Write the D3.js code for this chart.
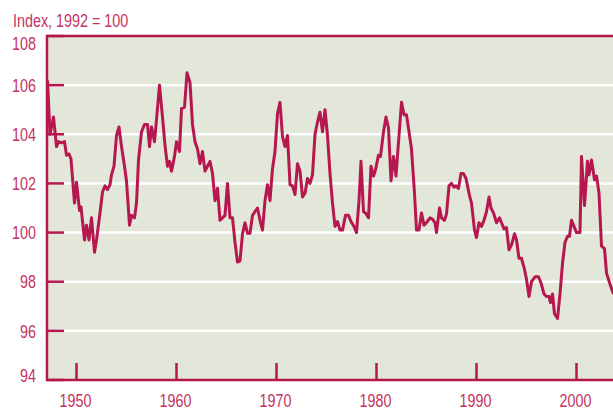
<!DOCTYPE html>
<html>
<head>
<meta charset="utf-8">
<script src="https://cdn.jsdelivr.net/npm/d3@7"></script>
<style>
  html, body { margin: 0; padding: 0; background: #ffffff; }
  svg text { font-family: "Liberation Sans", Arial, sans-serif; }
</style>
</head>
<body>
<div id="chart"></div>
<script>
// index values (decimal year, index)
const dates = [
  1947.1, 1947.35, 1947.7, 1947.85, 1948.0, 1948.2, 1948.5, 1948.8, 1949.0, 1949.25,
  1949.45, 1949.8, 1950.0, 1950.3, 1950.45, 1950.8, 1951.0, 1951.25, 1951.5, 1951.8,
  1952.0, 1952.35, 1952.6, 1952.85, 1953.1, 1953.35, 1953.5, 1953.75, 1954.0, 1954.25,
  1954.5, 1954.8, 1955.0, 1955.3, 1955.5, 1955.8, 1956.0, 1956.2, 1956.5, 1956.8,
  1957.1, 1957.3, 1957.5, 1957.8, 1958.0, 1958.3, 1958.6, 1958.85, 1959.1, 1959.3,
  1959.5, 1959.8, 1960.0, 1960.3, 1960.5, 1960.8, 1961.05, 1961.35, 1961.6, 1961.85,
  1962.1, 1962.35, 1962.6, 1962.85, 1963.1, 1963.35, 1963.6, 1963.85, 1964.1, 1964.35,
  1964.6, 1964.85, 1965.1, 1965.35, 1965.6, 1965.85, 1966.1, 1966.35, 1966.6, 1966.85,
  1967.1, 1967.35, 1967.6, 1967.85, 1968.1, 1968.35, 1968.6, 1968.85, 1969.1, 1969.35,
  1969.6, 1969.85, 1970.1, 1970.35, 1970.6, 1970.85, 1971.1, 1971.35, 1971.6, 1971.85,
  1972.1, 1972.35, 1972.6, 1972.85, 1973.1, 1973.35, 1973.6, 1973.85, 1974.1, 1974.35,
  1974.6, 1974.85, 1975.1, 1975.35, 1975.6, 1975.85, 1976.1, 1976.35, 1976.6, 1976.9,
  1977.2, 1977.45, 1977.75, 1978.0, 1978.25, 1978.45, 1978.7, 1978.9, 1979.2, 1979.45,
  1979.7, 1979.9, 1980.2, 1980.4, 1980.7, 1980.95, 1981.2, 1981.45, 1981.7, 1981.95,
  1982.25, 1982.5, 1982.75, 1983.0, 1983.25, 1983.5, 1983.8, 1984.0, 1984.25, 1984.5,
  1984.75, 1985.0, 1985.35, 1985.6, 1985.85, 1986.0, 1986.3, 1986.5, 1986.8, 1987.0,
  1987.25, 1987.5, 1987.75, 1987.95, 1988.2, 1988.45, 1988.7, 1988.95, 1989.1, 1989.3,
  1989.5, 1989.8, 1990.0, 1990.25, 1990.5, 1990.75, 1991.0, 1991.25, 1991.45, 1991.7,
  1992.0, 1992.3, 1992.5, 1992.75, 1993.0, 1993.25, 1993.5, 1993.8, 1994.0, 1994.25,
  1994.5, 1994.8, 1995.0, 1995.25, 1995.5, 1995.85, 1996.2, 1996.45, 1996.75, 1997.0,
  1997.25, 1997.4, 1997.6, 1997.8, 1998.1, 1998.35, 1998.6, 1998.85, 1999.1, 1999.3,
  1999.5, 1999.8, 2000.0, 2000.35, 2000.5, 2000.8, 2001.1, 2001.25, 2001.5, 2001.8,
  2002.0, 2002.25, 2002.5, 2002.8, 2003.0, 2003.35, 2003.7
];
const values = [
  106.2, 104.0, 104.7, 104.1, 103.5, 103.7, 103.65, 103.7, 103.15, 103.2,
  103.0, 101.2, 102.05, 100.9, 101.05, 99.7, 100.3, 99.7, 100.6, 99.2,
  99.7, 100.8, 101.65, 101.9, 101.75, 101.95, 102.35, 102.7, 103.95, 104.3,
  103.5, 102.7, 102.1, 100.3, 100.7, 100.6, 101.2, 102.95, 104.1, 104.4,
  104.4, 103.5, 104.3, 103.7, 104.6, 106.0, 104.7, 103.55, 102.7, 102.9,
  102.5, 103.1, 103.7, 103.3, 105.05, 105.1, 106.5, 106.1, 104.4, 103.7,
  103.4, 102.8, 103.3, 102.5, 102.7, 102.9, 102.4, 101.3, 101.8, 100.5,
  100.6, 100.7, 102.0, 100.6, 100.6, 99.6, 98.8, 98.85, 99.95, 100.4,
  99.97, 99.97, 100.7, 100.85, 101.0, 100.5, 100.1, 101.3, 101.95, 101.3,
  102.6, 103.3, 104.85, 105.3, 103.9, 103.5, 103.95, 101.95, 101.9, 101.55,
  102.8, 102.5, 101.45, 101.6, 102.2, 102.0, 102.35, 104.0, 104.5, 104.9,
  104.1, 105.0, 103.95, 102.4, 101.2, 100.25, 100.45, 100.1, 100.1, 100.7,
  100.7, 100.45, 100.25, 100.0, 101.3, 102.9, 100.85, 100.8, 100.6, 102.7,
  102.3, 102.55, 103.15, 103.1, 104.1, 104.7, 104.25, 102.1, 103.1, 102.3,
  103.95, 105.3, 104.8, 104.8, 104.1, 103.4, 101.6, 100.1, 100.1, 100.8,
  100.3, 100.4, 100.6, 100.55, 100.4, 100.0, 101.0, 100.6, 100.5, 100.75,
  101.9, 102.0, 101.85, 101.9, 101.8, 102.4, 102.4, 102.2, 101.9, 101.5,
  101.2, 100.1, 99.8, 100.4, 100.25, 100.5, 100.85, 101.45, 101.0, 100.8,
  100.4, 100.6, 100.4, 100.15, 100.2, 99.3, 99.5, 99.95, 99.7, 98.95,
  98.95, 98.5, 98.1, 97.4, 98.0, 98.2, 98.2, 97.95, 97.5, 97.4,
  97.4, 97.15, 97.5, 96.7, 96.5, 97.5, 98.75, 99.6, 99.85, 99.85,
  100.5, 100.2, 100.0, 100.0, 103.1, 101.1, 102.9, 102.35, 102.95, 102.15,
  102.3, 101.6, 99.45, 99.35, 98.35, 97.9, 97.5
];
const yTicks = [94, 96, 98, 100, 102, 104, 106, 108];
const xTicks = [1950, 1960, 1970, 1980, 1990, 2000];
const title = "Index, 1992 = 100";

const W = 613, H = 410;
const margin = {left: 47, top: 36, right: 613, bottom: 380};
const red = "#b7174f", textRed = "#c4325f", bg = "#e2e7da";
const fontSize = 18.5;
const squeeze = 0.775;   // condensed look for the labels

let svg = d3.select("#chart").append("svg")
    .attr("width", W)
    .attr("height", H);

let x = d3.scaleLinear().domain([1947.05, 2003.65]).range([margin.left, margin.right]);
let y = d3.scaleLinear().domain([94, 108]).range([margin.bottom, margin.top]);

// panel
svg.append("rect")
    .attr("x", margin.left).attr("y", margin.top)
    .attr("width", margin.right - margin.left).attr("height", margin.bottom - margin.top)
    .attr("fill", bg);

// white gridlines
svg.append("g").selectAll("line")
    .data(yTicks.filter((d) => d > 94 && d < 108))
    .enter().append("line")
    .attr("x1", margin.left).attr("x2", margin.right)
    .attr("y1", (d) => y(d)).attr("y2", (d) => y(d))
    .attr("stroke", "#ffffff").attr("stroke-width", 2.5);

// y ticks inside the panel
svg.append("g").selectAll("line")
    .data(yTicks)
    .enter().append("line")
    .attr("x1", margin.left).attr("x2", margin.left + 17)
    .attr("y1", (d) => y(d)).attr("y2", (d) => y(d))
    .attr("stroke", red).attr("stroke-width", 2.5);

// x ticks inside the panel
svg.append("g").selectAll("line")
    .data(xTicks)
    .enter().append("line")
    .attr("x1", (d) => x(d)).attr("x2", (d) => x(d))
    .attr("y1", margin.bottom).attr("y2", margin.bottom - 17)
    .attr("stroke", red).attr("stroke-width", 2.5);

// frame: top, left, bottom
svg.append("path")
    .attr("d", `M${margin.right},${margin.top}H${margin.left}V${margin.bottom}H${margin.right}`)
    .attr("fill", "none").attr("stroke", red).attr("stroke-width", 2.5);

// y labels (end ones nudged inward like the original)
svg.append("g").selectAll("g")
    .data(yTicks)
    .enter().append("g")
    .attr("transform", (d) => "translate(36," + (y(d) + (d === 108 ? 7 : d === 94 ? -5 : 0)) + ") scale(" + squeeze + ",1)")
    .append("text")
    .attr("dy", "0.36em")
    .attr("text-anchor", "end")
    .attr("fill", textRed)
    .attr("font-size", fontSize)
    .text((d) => d);

// x labels
svg.append("g").selectAll("g")
    .data(xTicks)
    .enter().append("g")
    .attr("transform", (d) => "translate(" + (x(d) - 1) + ",407) scale(" + squeeze + ",1)")
    .append("text")
    .attr("text-anchor", "middle")
    .attr("fill", textRed)
    .attr("font-size", fontSize)
    .text((d) => d);

svg.append("g")
    .attr("transform", "translate(13,26.5) scale(" + squeeze + ",1)")
    .append("text")
    .attr("fill", textRed)
    .attr("font-size", fontSize)
    .text(title);

// the series
svg.append("clipPath").attr("id", "clip")
    .append("rect")
    .attr("x", margin.left).attr("y", margin.top)
    .attr("width", margin.right - margin.left).attr("height", margin.bottom - margin.top);

let line = d3.line()
    .x((d, i) => x(dates[i]))
    .y((d) => y(d));

svg.append("path")
    .datum(values)
    .attr("clip-path", "url(#clip)")
    .attr("d", line)
    .attr("fill", "none")
    .attr("stroke", red)
    .attr("stroke-width", 3)
    .attr("stroke-linejoin", "round");
</script>
</body>
</html>
